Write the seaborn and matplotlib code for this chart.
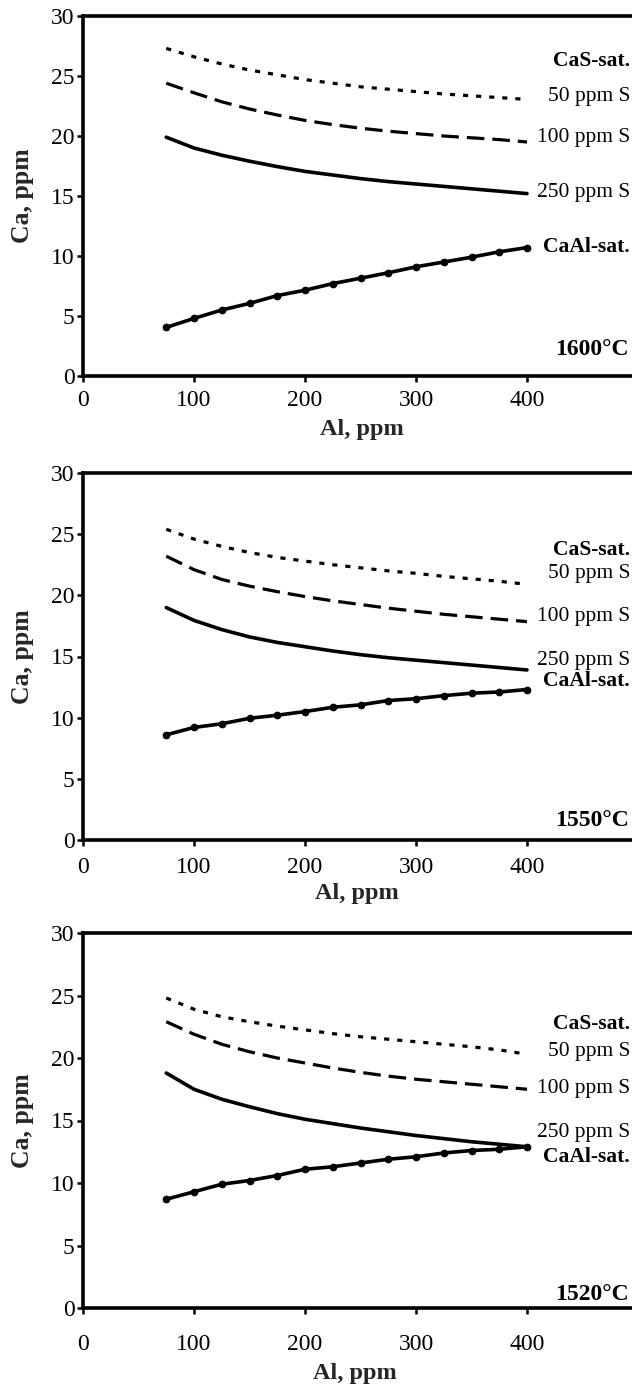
import matplotlib
matplotlib.use("Agg")
import matplotlib.pyplot as plt
import seaborn as sns
import pandas as pd

sns.set_theme(style="ticks")
plt.rcParams['font.family'] = ['Liberation Serif', 'DejaVu Serif']

# ---------------- data ----------------
al = [75, 100, 125, 150, 175, 200, 225, 250, 275, 300, 325, 350, 375, 400]

temps = ["1600°C", "1550°C", "1520°C"]

s50_1600 = [27.3, 26.6, 26.0, 25.5, 25.1, 24.7, 24.4, 24.1, 23.9, 23.7, 23.5, 23.35, 23.2, 23.05]
s100_1600 = [24.4, 23.6, 22.85, 22.25, 21.75, 21.3, 20.95, 20.65, 20.4, 20.2, 20.0, 19.85, 19.7, 19.5]
s250_1600 = [19.9, 19.0, 18.4, 17.9, 17.45, 17.05, 16.75, 16.45, 16.2, 16.0, 15.8, 15.6, 15.4, 15.2]
caal_1600 = [4.05, 4.8, 5.5, 6.05, 6.7, 7.15, 7.7, 8.15, 8.6, 9.1, 9.5, 9.9, 10.35, 10.7]

s50_1550 = [25.4, 24.6, 24.0, 23.5, 23.1, 22.8, 22.5, 22.25, 22.0, 21.8, 21.55, 21.35, 21.15, 20.9]
s100_1550 = [23.2, 22.1, 21.3, 20.75, 20.3, 19.9, 19.55, 19.25, 18.95, 18.7, 18.45, 18.25, 18.05, 17.85]
s250_1550 = [19.0, 17.95, 17.2, 16.6, 16.15, 15.8, 15.45, 15.15, 14.9, 14.7, 14.5, 14.3, 14.1, 13.9]
caal_1550 = [8.6, 9.2, 9.5, 9.95, 10.2, 10.5, 10.85, 11.05, 11.4, 11.55, 11.8, 12.0, 12.1, 12.3]

s50_1520 = [24.8, 23.9, 23.3, 22.9, 22.55, 22.25, 21.95, 21.7, 21.5, 21.3, 21.1, 20.9, 20.65, 20.3]
s100_1520 = [22.9, 21.9, 21.1, 20.5, 20.0, 19.6, 19.2, 18.85, 18.55, 18.3, 18.1, 17.9, 17.7, 17.5]
s250_1520 = [18.8, 17.5, 16.7, 16.1, 15.55, 15.1, 14.75, 14.4, 14.1, 13.8, 13.55, 13.3, 13.1, 12.9]
caal_1520 = [8.7, 9.3, 9.9, 10.2, 10.6, 11.1, 11.3, 11.6, 11.9, 12.1, 12.4, 12.6, 12.7, 12.9]

curve_labels = ["CaS-sat.", "50 ppm S", "100 ppm S", "250 ppm S", "CaAl-sat."]

# label y-positions (data units) per panel: CaS, 50, 100, 250, CaAl, temp
label_y_1600 = [26.25, 23.25, 19.9, 15.3, 10.75, 2.2]
label_y_1550 = [23.7, 21.8, 18.3, 14.7, 13.0, 1.6]
label_y_1520 = [22.7, 20.5, 17.6, 14.0, 12.1, 1.1]

panels = [
    (temps[0], s50_1600, s100_1600, s250_1600, caal_1600, label_y_1600),
    (temps[1], s50_1550, s100_1550, s250_1550, caal_1550, label_y_1550),
    (temps[2], s50_1520, s100_1520, s250_1520, caal_1520, label_y_1520),
]

# ---------------- layout (pixels) ----------------
W, H = 632, 1387
fig = plt.figure(figsize=(W / 100, H / 100), dpi=100)
ax_left = 83
ax_tops = [16, 473, 933]
ax_bottoms = [376, 840, 1308]
xlabel_centers = [(362, 429), (357, 894), (355, 1373)]
tick_pads = [6, 8, 15]

px_per_unit = 1.11
xmax = (W - ax_left) / px_per_unit

for i, (temp, s50, s100, s250, caal, ly) in enumerate(panels):
    top, bot = ax_tops[i], ax_bottoms[i]
    ax = fig.add_axes([ax_left / W, (H - bot) / H, (W - ax_left) / W, (bot - top) / H])
    ax.set_facecolor("white")

    df = pd.DataFrame({"Al": al, "s50": s50, "s100": s100, "s250": s250, "caal": caal})

    sns.lineplot(data=df, x="Al", y="s50", ax=ax, color="black", linewidth=2.3,
                 linestyle=(0, (1.6, 2.5)))
    sns.lineplot(data=df, x="Al", y="s100", ax=ax, color="black", linewidth=2.3,
                 linestyle=(0, (5.5, 2.5)))
    sns.lineplot(data=df, x="Al", y="s250", ax=ax, color="black", linewidth=2.6)
    sns.lineplot(data=df, x="Al", y="caal", ax=ax, color="black", linewidth=2.6,
                 marker="o", markersize=4.8, markeredgecolor="black")

    ax.set_xlim(0, xmax)
    ax.set_ylim(0, 30)
    ax.set_xticks([0, 100, 200, 300, 400])
    ax.set_yticks([0, 5, 10, 15, 20, 25, 30])

    for sp in ["left", "bottom", "top"]:
        ax.spines[sp].set_visible(True)
        ax.spines[sp].set_linewidth(2.6)
        ax.spines[sp].set_color("black")
    ax.spines["right"].set_visible(False)

    ax.tick_params(axis="both", direction="out", length=4, width=1.8, color="black",
                   labelsize=17, labelcolor="black")
    ax.tick_params(axis="x", pad=tick_pads[i])
    ax.tick_params(axis="y", pad=2)

    ax.set_xlabel("Al, ppm", fontsize=17.5, fontweight="bold", va="center")
    ax.set_ylabel("Ca, ppm", fontsize=18.5, fontweight="bold", va="center")
    xc, yc = xlabel_centers[i]
    ax.xaxis.set_label_coords((xc - ax_left) / (W - ax_left), -(yc - bot) / (bot - top))
    ax.yaxis.set_label_coords((23 - ax_left) / (W - ax_left), 0.5)

    weights = ["bold", "normal", "normal", "normal", "bold"]
    for lab, yv, wt in zip(curve_labels, ly[:5], weights):
        ax.text(493, yv, lab, ha="right", va="center", fontsize=15.5,
                fontweight=wt, color="black", clip_on=False)
    ax.text(492, ly[5], temp, ha="right", va="center", fontsize=17,
            fontweight="bold", color="black", clip_on=False)

fig.savefig("out.png", dpi=100, facecolor="white")
